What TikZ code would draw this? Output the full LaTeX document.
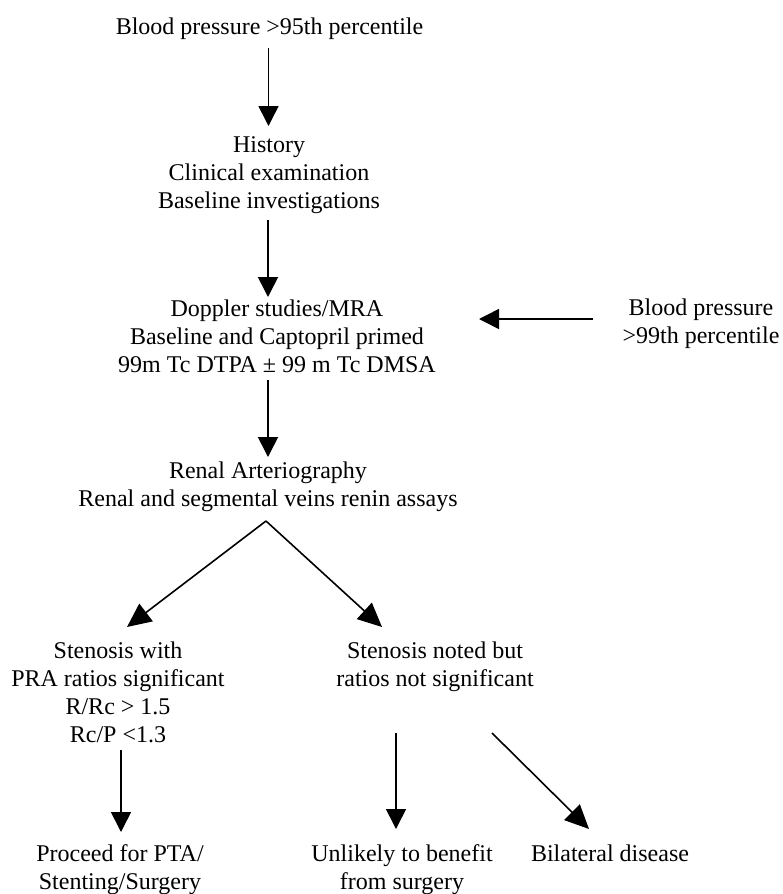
\documentclass[tikz,border=0pt]{standalone}
\usepackage{fontspec}
\setmainfont{Liberation Serif}
\usetikzlibrary{arrows.meta,calc}
\begin{document}
\begin{tikzpicture}[x=1pt,y=-1pt,
  lbl/.style={font=\fontsize{24}{28}\selectfont, align=center, inner sep=0pt, anchor=base},
  arr/.style={line width=1.6pt, -{Triangle[length=20pt,width=20pt]}},
  arrd/.style={line width=1.6pt, -{Triangle[length=24pt,width=22pt]}}]
\useasboundingbox[fill=white] (0,0) rectangle (783,894);
% base anchor = baseline of the last line
\node[lbl] (top) at (269.5,34) {Blood pressure >95th percentile};
\node[lbl] (hist) at (269,208) {History\\Clinical examination\\Baseline investigations};
\node[lbl] (dop) at (277,372) {Doppler studies/MRA\\Baseline and Captopril primed\\99m Tc DTPA ± 99 m Tc DMSA};
\node[lbl] (bp99) at (701,343) {Blood pressure\\>99th percentile};
\node[lbl] (renal) at (268,506) {Renal Arteriography\\Renal and segmental veins renin assays};
\node[lbl] (stenL) at (118,742) {Stenosis with\\PRA ratios significant\\R/Rc > 1.5\\Rc/P <1.3};
\node[lbl] (stenR) at (435,686) {Stenosis noted but\\ratios not significant};
\node[lbl] (pta) at (120,889) {Proceed for PTA/\\Stenting/Surgery};
\node[lbl] (unl) at (402,889) {Unlikely to benefit\\from surgery};
\node[lbl] (bil) at (610,861) {Bilateral disease};
\draw[arr] ($(top.base)+(-1,14)$) -- ($(hist.base)+(-0.5,-82)$);
\draw[arr] ($(hist.base)+(-1,12)$) -- ($(dop.base)+(-9,-75)$);
\draw[arr] ($(dop.base)+(-9,8)$) -- ($(renal.base)+(0,-49)$);
\draw[arr] ($(bp99.base)+(-108,-24)$) -- ($(dop.base)+(202,-53)$);
\draw[arrd] ($(renal.base)+(-2,15)$) -- ($(stenL.base)+(9,-115)$);
\draw[arrd] ($(renal.base)+(-2,15)$) -- ($(stenR.base)+(-53,-59)$);
\draw[arr] ($(stenL.base)+(3,8)$) -- ($(pta.base)+(1,-57)$);
\draw[arr] ($(stenR.base)+(-39,47)$) -- ($(unl.base)+(-6,-60)$);
\draw[arrd] ($(stenR.base)+(57,47)$) -- ($(bil.base)+(-21,-32)$);
\end{tikzpicture}
\end{document}
